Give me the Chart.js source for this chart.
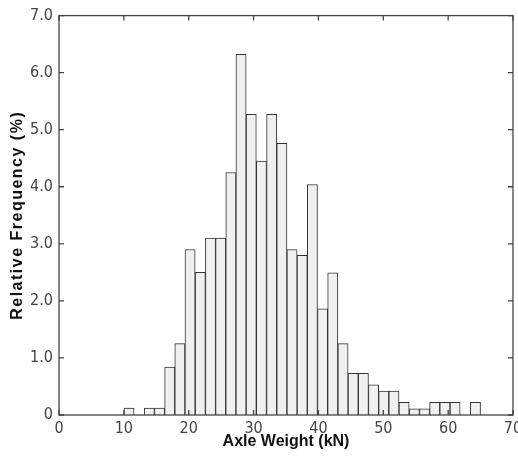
<!DOCTYPE html>
<html>
<head>
<meta charset="utf-8">
<title>Axle Weight Histogram</title>
<script src="https://cdn.jsdelivr.net/npm/chart.js"></script>
<style>
  html, body { margin: 0; padding: 0; background: #fff; }
  #wrap { width: 518px; height: 464px; }
</style>
</head>
<body>
<div id="wrap"><canvas id="histChart" width="518" height="464"></canvas></div>
<script>
// ==================== DATA ====================
// bin centres (kN), 35 bins from 10 to 65
const binCenters = [10.79, 12.36, 13.93, 15.50, 17.07, 18.64, 20.21, 21.79, 23.36, 24.93,
                    26.50, 28.07, 29.64, 31.21, 32.79, 34.36, 35.93, 37.50, 39.07, 40.64,
                    42.21, 43.79, 45.36, 46.93, 48.50, 50.07, 51.64, 53.21, 54.79, 56.36,
                    57.93, 59.50, 61.07, 62.64, 64.21];
// relative frequency (%)
const relFreq = [0.12, 0, 0.12, 0.12, 0.84, 1.25, 2.90, 2.50, 3.10, 3.10,
                 4.25, 6.32, 5.27, 4.45, 5.27, 4.76, 2.90, 2.80, 4.04, 1.86,
                 2.49, 1.25, 0.73, 0.73, 0.53, 0.42, 0.42, 0.22, 0.11, 0.11,
                 0.22, 0.22, 0.22, 0, 0.22];
const xTicks = [0, 10, 20, 30, 40, 50, 60, 70];
const yTicks = [0, 1, 2, 3, 4, 5, 6, 7];
const xTitle = 'Axle Weight (kN)';
const yTitle = 'Relative Frequency (%)';

// ==================== PLUGIN: frame, inward ticks, y title ====================
const framePlugin = {
    id: 'frame',
    afterDraw(chart) {
        const { ctx, chartArea: a, scales } = chart;
        ctx.save();
        ctx.strokeStyle = '#444';
        ctx.lineWidth = 1.3;
        ctx.strokeRect(a.left, a.top, a.right - a.left, a.bottom - a.top);
        ctx.beginPath();
        xTicks.forEach(v => {
            const px = scales.x.getPixelForValue(v);
            ctx.moveTo(px, a.bottom); ctx.lineTo(px, a.bottom - 5);
            ctx.moveTo(px, a.top); ctx.lineTo(px, a.top + 5);
        });
        yTicks.forEach(v => {
            const py = scales.y.getPixelForValue(v);
            ctx.moveTo(a.left, py); ctx.lineTo(a.left + 5, py);
            ctx.moveTo(a.right, py); ctx.lineTo(a.right - 5, py);
        });
        ctx.stroke();

        // y title, drawn here to get the wider letter spacing
        ctx.fillStyle = '#111';
        ctx.font = 'bold 16px "Liberation Sans", Arial, sans-serif';
        ctx.letterSpacing = '1.5px';
        ctx.textAlign = 'center';
        ctx.textBaseline = 'middle';
        ctx.translate(18, (a.top + a.bottom) / 2);
        ctx.rotate(-Math.PI / 2);
        ctx.fillText(yTitle, 0, 0);
        ctx.restore();
    }
};

// ==================== CHART ====================
const tickFont = { family: '"Liberation Sans Narrow", "DejaVu Sans Condensed", sans-serif', size: 16 };

new Chart(document.getElementById('histChart'), {
    type: 'bar',
    data: {
        datasets: [{
            data: binCenters.map((c, i) => ({ x: c, y: relFreq[i] })),
            backgroundColor: '#f0f0f0',
            borderColor: '#333',
            borderWidth: 1,
            borderSkipped: 'bottom',
            barPercentage: 1,
            categoryPercentage: 1
        }]
    },
    options: {
        responsive: false,
        animation: false,
        layout: { padding: { top: 15, right: 5, left: 0, bottom: 0 } },
        plugins: { legend: { display: false }, tooltip: { enabled: false } },
        scales: {
            x: {
                type: 'linear',
                offset: false,
                min: 0, max: 70,
                afterBuildTicks: s => { s.ticks = xTicks.map(v => ({ value: v })); },
                afterFit: s => { s.height = 49; s.paddingLeft = 0; s.paddingRight = 0; },
                grid: { display: false, drawTicks: false },
                border: { display: false },
                ticks: { font: tickFont, color: '#444', padding: 4, maxRotation: 0 },
                title: {
                    display: true, text: xTitle, color: '#111',
                    font: { family: '"Liberation Sans", Arial, sans-serif', size: 16, weight: 'bold' },
                    padding: { top: 0, bottom: 13 }
                }
            },
            y: {
                min: 0, max: 7,
                afterBuildTicks: s => { s.ticks = yTicks.map(v => ({ value: v })); },
                afterFit: s => { s.width = 59; },
                grid: { display: false, drawTicks: false },
                border: { display: false },
                ticks: {
                    font: tickFont, color: '#444', padding: 6,
                    callback: v => v === 0 ? '0' : v.toFixed(1)
                }
            }
        }
    },
    plugins: [framePlugin]
});
</script>
</body>
</html>
